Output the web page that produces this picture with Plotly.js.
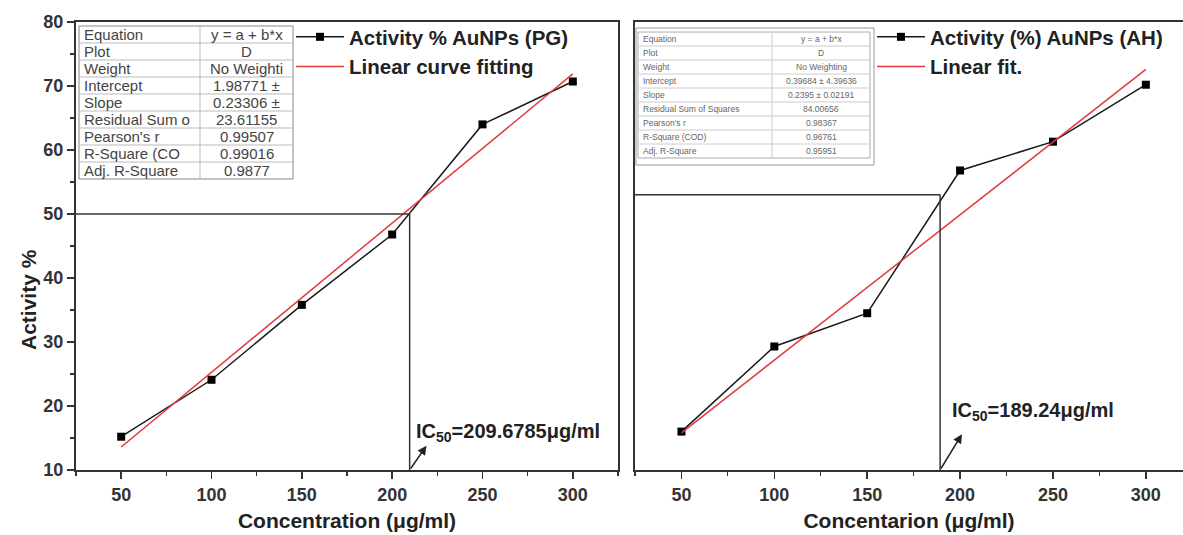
<!DOCTYPE html>
<html><head><meta charset="utf-8">
<script src="https://cdn.plot.ly/plotly-3.0.1.min.js"></script>
<style>html,body{margin:0;padding:0;background:#fff}</style>
</head><body><div id="chart" style="width:1183px;height:535px"></div>
<script>
// ---- data ----
const concentration = [50, 100, 150, 200, 250, 300];
const activityPG = [15.2, 24.1, 35.8, 46.8, 64.0, 70.7];
const activityAH = [16.0, 29.3, 34.5, 56.8, 61.3, 70.2];
const fitX = [50, 300];
const fitPG = [13.6, 71.9];
const fitAH = [15.8, 72.6];
const ic50PG = 209.6785;
const ic50AH = 189.24;
const levelPG = 50;
const levelAH = 53;
const xTicks = [50, 100, 150, 200, 250, 300];
const yTicks = [10, 20, 30, 40, 50, 60, 70, 80];
const tablePGLabels = ["Equation", "Plot", "Weight", "Intercept", "Slope", "Residual Sum o", "Pearson's r", "R-Square (CO", "Adj. R-Square"];
const tablePGValues = ["y = a + b*x", "D", "No Weighti", "1.98771 ±", "0.23306 ±", "23.61155", "0.99507", "0.99016", "0.9877"];
const tableAHLabels = ["Equation", "Plot", "Weight", "Intercept", "Slope", "Residual Sum of Squares", "Pearson's r", "R-Square (COD)", "Adj. R-Square"];
const tableAHValues = ["y = a + b*x", "D", "No Weighting", "0.39684 ± 4.39636", "0.2395 ± 0.02191", "84.00656", "0.98367", "0.96761", "0.95951"];

// ---- layout helpers ----
const W = 1183, H = 535;
const px = x => x / W;
const py = y => 1 - y / H;
const FONT = "Liberation Sans, Arial, sans-serif";
const AX = "#333";

const traces = [
  {x: concentration, y: activityPG, xaxis: 'x', yaxis: 'y', name: '<b>Activity % AuNPs (PG)</b>', mode: 'lines+markers',
   line: {color: '#1a1a1a', width: 1.5}, marker: {symbol: 'square', size: 8, color: '#000'}, legend: 'legend'},
  {x: fitX, y: fitPG, xaxis: 'x', yaxis: 'y', name: '<b>Linear curve fitting</b>', mode: 'lines',
   line: {color: '#e0393e', width: 1.5}, legend: 'legend'},
  {x: concentration, y: activityAH, xaxis: 'x2', yaxis: 'y2', name: '<b>Activity (%) AuNPs (AH)</b>', mode: 'lines+markers',
   line: {color: '#1a1a1a', width: 1.5}, marker: {symbol: 'square', size: 8, color: '#000'}, legend: 'legend2'},
  {x: fitX, y: fitAH, xaxis: 'x2', yaxis: 'y2', name: '<b>Linear fit.</b>', mode: 'lines',
   line: {color: '#e0393e', width: 1.5}, legend: 'legend2'}
];

const xRangeL = [25, 325], xRangeR = [25, 320], yRange = [10, 80];

function xAxisStyle(domain, range, anchor, title) {
  return {
    domain: domain, range: range, anchor: anchor,
    tickmode: 'array', tickvals: xTicks,
    ticks: 'outside', ticklen: 7, tickwidth: 1.5, tickcolor: AX,
    minor: {ticks: 'outside', ticklen: 4, tickwidth: 1.2, tickcolor: AX, dtick: 25, tick0: 25},
    showline: true, linecolor: AX, linewidth: 2, mirror: true,
    showgrid: false, zeroline: false,
    tickfont: {family: FONT, size: 18, color: AX, weight: 'bold'},
    title: {text: title, font: {family: FONT, size: 21, color: '#222', weight: 'bold'}, standoff: 10}
  };
}

const legendFont = {family: FONT, size: 20.5, color: '#222'};
const layout = {
  width: W, height: H,
  margin: {l: 0, r: 0, t: 0, b: 0},
  paper_bgcolor: '#fff', plot_bgcolor: '#fff',
  font: {family: FONT},
  xaxis: xAxisStyle([px(76), px(618)], xRangeL, 'y', 'Concentration (μg/ml)'),
  xaxis2: xAxisStyle([px(635), 1], xRangeR, 'y2', 'Concentarion (μg/ml)'),
  yaxis: {
    domain: [py(470), py(22)], range: yRange, anchor: 'x',
    tickmode: 'array', tickvals: yTicks,
    ticks: 'outside', ticklen: 7, tickwidth: 1.5, tickcolor: AX,
    minor: {ticks: 'outside', ticklen: 4, tickwidth: 1.2, tickcolor: AX, dtick: 5, tick0: 5},
    showline: true, linecolor: AX, linewidth: 2, mirror: true,
    showgrid: false, zeroline: false,
    tickfont: {family: FONT, size: 18, color: AX, weight: 'bold'}
  },
  yaxis2: {
    domain: [py(470), py(22)], range: yRange, anchor: 'x2',
    showticklabels: false, ticks: '',
    showline: true, linecolor: AX, linewidth: 2, mirror: false,
    showgrid: false, zeroline: false
  },
  showlegend: true,
  legend: {x: px(291), y: py(17), xanchor: 'left', yanchor: 'top', bgcolor: 'rgba(0,0,0,0)',
           font: legendFont, tracegroupgap: 0, itemwidth: 48},
  legend2: {x: px(872), y: py(17), xanchor: 'left', yanchor: 'top', bgcolor: 'rgba(0,0,0,0)',
           font: legendFont, tracegroupgap: 0, itemwidth: 48},
  shapes: [],
  annotations: []
};

// y-axis title
layout.annotations.push({xref: 'paper', yref: 'paper', x: px(28), y: py(300), textangle: -90,
  xanchor: 'center', yanchor: 'middle', showarrow: false, text: 'Activity %',
  font: {family: FONT, size: 21, color: '#222', weight: 'bold'}});

// IC50 guide lines (data coordinates)
layout.shapes.push(
  {type: 'line', xref: 'x', yref: 'y', x0: xRangeL[0], x1: ic50PG, y0: levelPG, y1: levelPG, line: {color: AX, width: 1.5}},
  {type: 'line', xref: 'x', yref: 'y', x0: ic50PG, x1: ic50PG, y0: yRange[0], y1: levelPG, line: {color: AX, width: 1.5}},
  {type: 'line', xref: 'x2', yref: 'y2', x0: xRangeR[0], x1: ic50AH, y0: levelAH, y1: levelAH, line: {color: AX, width: 1.5}},
  {type: 'line', xref: 'x2', yref: 'y2', x0: ic50AH, x1: ic50AH, y0: yRange[0], y1: levelAH, line: {color: AX, width: 1.5}}
);

// IC50 labels + arrows
layout.annotations.push(
  {xref: 'x', yref: 'y', x: 219, y: 13.8, axref: 'x', ayref: 'y', ax: ic50PG, ay: yRange[0], text: '',
   showarrow: true, arrowhead: 2, arrowsize: 1.2, arrowwidth: 1.5, arrowcolor: '#222', standoff: 0, startstandoff: 0},
  {xref: 'x', yref: 'y', x: 212, y: 15.8, xanchor: 'left', yanchor: 'middle', showarrow: false,
   text: 'IC<sub>50</sub>=209.6785μg/ml', font: {family: FONT, size: 20, color: '#222', weight: 'bold'}},
  {xref: 'x2', yref: 'y2', x: 201, y: 15.6, axref: 'x2', ayref: 'y2', ax: ic50AH, ay: yRange[0], text: '',
   showarrow: true, arrowhead: 2, arrowsize: 1.2, arrowwidth: 1.5, arrowcolor: '#222', standoff: 0, startstandoff: 0},
  {xref: 'x2', yref: 'y2', x: 194.5, y: 19.2, xanchor: 'left', yanchor: 'middle', showarrow: false,
   text: 'IC<sub>50</sub>=189.24μg/ml', font: {family: FONT, size: 20, color: '#222', weight: 'bold'}}
);

// Statistics tables (pixel geometry converted to paper coordinates)
function addTable(labels, values, x0, split, x1, y0, rowH, fontSize, textColor, gridColor, borderColor) {
  const n = labels.length;
  const y1 = y0 + n * rowH;
  layout.shapes.push({type: 'rect', xref: 'paper', yref: 'paper', x0: px(x0), x1: px(x1), y0: py(y0), y1: py(y1),
    line: {color: borderColor, width: 1}, fillcolor: 'rgba(0,0,0,0)'});
  layout.shapes.push({type: 'line', xref: 'paper', yref: 'paper', x0: px(split), x1: px(split), y0: py(y0), y1: py(y1),
    line: {color: gridColor, width: 1}});
  for (let i = 1; i < n; i++) {
    layout.shapes.push({type: 'line', xref: 'paper', yref: 'paper', x0: px(x0), x1: px(x1), y0: py(y0 + i * rowH), y1: py(y0 + i * rowH),
      line: {color: gridColor, width: 1}});
  }
  for (let i = 0; i < n; i++) {
    const yc = py(y0 + (i + 0.5) * rowH);
    layout.annotations.push({xref: 'paper', yref: 'paper', x: px(x0 + 3), y: yc, xanchor: 'left', yanchor: 'middle',
      showarrow: false, text: labels[i], font: {family: FONT, size: fontSize, color: textColor}});
    layout.annotations.push({xref: 'paper', yref: 'paper', x: px((split + x1) / 2), y: yc, xanchor: 'center', yanchor: 'middle',
      showarrow: false, text: values[i], font: {family: FONT, size: fontSize, color: textColor}});
  }
}
addTable(tablePGLabels, tablePGValues, 79, 200, 293, 26, 17, 15, '#444', '#bbb', '#888');
layout.shapes.push({type: 'rect', xref: 'paper', yref: 'paper', x0: px(636), x1: px(874), y0: py(28), y1: py(165),
  line: {color: '#999', width: 1}, fillcolor: 'rgba(0,0,0,0)'});
addTable(tableAHLabels, tableAHValues, 638, 772, 870, 32, 14, 8.5, '#666', '#ccc', '#aaa');

Plotly.newPlot('chart', traces, layout, {displayModeBar: false, staticPlot: true});
</script>
</body></html>
